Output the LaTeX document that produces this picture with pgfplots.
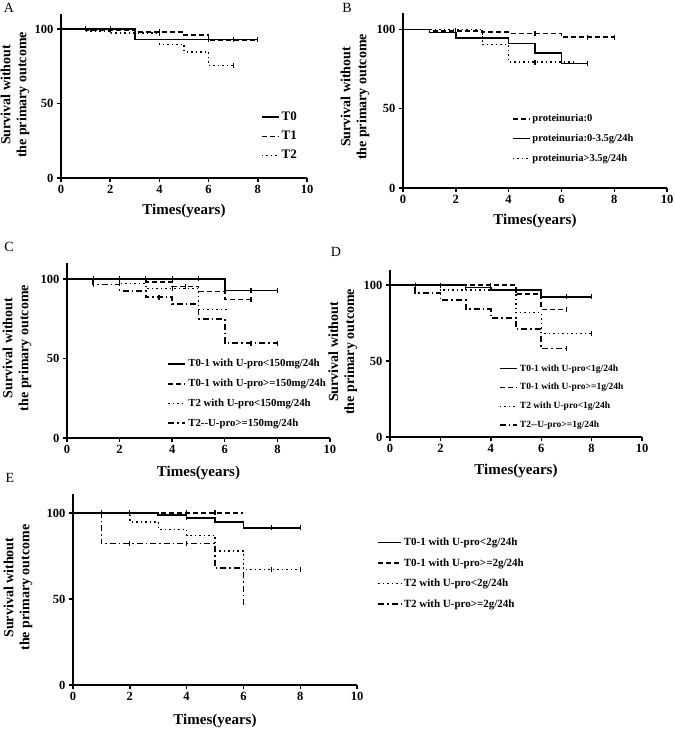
\documentclass[border=0pt]{standalone}
\usepackage{fontspec}
\setmainfont{Liberation Serif}
\usepackage{pgfplots}
\pgfplotsset{compat=1.18}

\pgfplotsset{
  km/.style={
    scale only axis,
    axis x line=bottom, axis y line=left,
    axis line style={line width=1.8pt, -},
    xmin=0, xmax=10, ymin=0,
    xtick={0,2,...,10}, ytick={0,50,100},
    tick style={line width=1.4pt, black},
    major tick length=4pt,
    tick align=outside,
    minor tick num=0,
    tick label style={font=\fontsize{12.5}{14}\selectfont\bfseries},
    /pgf/number format/assume math mode=true,
    xlabel={Times(years)},
    ylabel={Survival without\\the primary outcome},
    xlabel style={font=\fontsize{15}{17}\selectfont\bfseries, anchor=center},
    ylabel style={font=\fontsize{14}{16}\selectfont\bfseries, align=center, anchor=center},
    legend cell align=left,
    legend style={draw=none, fill=none, anchor=north west},
    clip=false,
  },
  kmS/.style={const plot, black, line width=1.6pt, solid, mark=|, mark indices={1000}, mark options={solid, line width=1.2pt}, mark size=3pt},
  kmD/.style={const plot, black, line width=1.6pt, dash pattern=on 5pt off 3pt, mark=|, mark indices={1000}, mark options={solid, line width=1.2pt}, mark size=3pt},
  kmO/.style={const plot, black, line width=1.4pt, dash pattern=on 1.5pt off 3pt, mark=|, mark indices={1000}, mark options={solid, line width=1.2pt}, mark size=3pt},
  kmDD/.style={const plot, black, line width=1.8pt, dash pattern=on 6pt off 3pt on 1.5pt off 3pt, mark=|, mark indices={1000}, mark options={solid, line width=1.2pt}, mark size=3pt},
  cens/.style={only marks, black, mark=|, mark size=2.5pt, mark options={solid, line width=1.2pt}, forget plot},
}

\begin{document}
\begin{tikzpicture}
\useasboundingbox (0,0) rectangle (675pt,732pt);

\node[font=\fontsize{14}{16}\selectfont] at (9pt,724pt) {A};
\node[font=\fontsize{14}{16}\selectfont] at (347pt,724pt) {B};
\node[font=\fontsize{14}{16}\selectfont] at (9pt,485pt) {C};
\node[font=\fontsize{14}{16}\selectfont] at (336pt,480pt) {D};
\node[font=\fontsize{14}{16}\selectfont] at (10pt,254pt) {E};

% ---------------- A ----------------
\begin{axis}[km, at={(61pt,554pt)}, anchor=south west,
  width=246pt, height=164pt, ymax=110,
  xlabel style={at={(axis description cs:0.5,-0.2)}},
  ylabel style={at={(axis description cs:-0.187,0.506)}},
  legend style={at={(axis cs:8.0,47)}, font=\fontsize{13}{15}\selectfont\bfseries, row sep=5pt}]
\addplot[kmS] coordinates {(0,100)(3,93)(8,93)};
\addlegendentry{T0}
\addplot[kmD] coordinates {(0,100)(1,99)(3,98)(5,96)(6,92.6)(8,92.6)};
\addlegendentry{T1}
\addplot[kmO] coordinates {(0,100)(1,98.5)(2,97.3)(4,89.7)(5,84.6)(6,75.4)(7,75.4)};
\addlegendentry{T2}
\addplot[cens] coordinates {(1,100)(2,100)(6,93)(7,93)(8,93)};
\addplot[cens] coordinates {(2,99)(3,98)(4,98)(7,92.6)(8,92.6)};
\addplot[cens] coordinates {(7,75.4)};
\end{axis}

% ---------------- B ----------------
\begin{axis}[km, at={(403pt,544pt)}, anchor=south west,
  width=264pt, height=175pt, ymax=110.3,
  xlabel style={at={(axis description cs:0.5,-0.19)}},
  ylabel style={at={(axis description cs:-0.182,0.52)}},
  legend style={at={(axis cs:4.0,49)}, font=\fontsize{10.5}{12}\selectfont\bfseries, row sep=7pt}]
\addplot[kmD] coordinates {(0,100)(1,99)(3,98.3)(4,97.5)(6,95)(8,95)};
\addlegendentry{proteinuria:0}
\addplot[kmS] coordinates {(0,100)(1,98)(2,94.5)(4,91.2)(5,84.9)(6,78.4)(7,78.4)};
\addlegendentry{proteinuria:0-3.5g/24h}
\addplot[kmO] coordinates {(0,100)(3,90.3)(4,79.4)(6.5,79.4)};
\addlegendentry{proteinuria>3.5g/24h}
\addplot[cens] coordinates {(2,99)(3,98.3)(5,97.5)(7,95)(8,95)};
\addplot[cens] coordinates {(7,78.4)};
\addplot[cens] coordinates {(5,79.4)};
\end{axis}

% ---------------- C ----------------
\begin{axis}[km, at={(67pt,294pt)}, anchor=south west,
  width=263pt, height=175pt, ymax=110,
  xlabel style={at={(axis description cs:0.5,-0.2)}},
  ylabel style={at={(axis description cs:-0.19,0.514)}},
  legend style={at={(axis cs:3.7,52)}, font=\fontsize{10.8}{12}\selectfont\bfseries, row sep=6.8pt}]
\addplot[kmS] coordinates {(0,100)(6,92.8)(8,92.8)};
\addlegendentry{T0-1 with U-pro<150mg/24h}
\addplot[kmD] coordinates {(0,100)(3,98)(4,95.3)(5,92.2)(6,87)(7,87)};
\addlegendentry{T0-1 with U-pro>=150mg/24h}
\addplot[kmO] coordinates {(0,100)(2,97)(3,94)(5,80.7)(6.1,80.7)};
\addlegendentry{T2 with U-pro<150mg/24h}
\addplot[kmDD] coordinates {(0,100)(1,96.5)(2,92.5)(3,88.4)(4,84)(5,75)(6,59.7)(8,59.7)};
\addlegendentry{T2-{}-U-pro>=150mg/24h}
\addplot[cens] coordinates {(1,100)(2,100)(3,100)(4,100)(5,100)(7,92.8)(8,92.8)};
\addplot[cens] coordinates {(4.5,95.3)(7,87)};
\addplot[cens] coordinates {(2,97)(4,94)};
\addplot[cens] coordinates {(1,96.5)(3.5,88.4)(7,59.7)(8,59.7)};
\end{axis}

% ---------------- D ----------------
\begin{axis}[km, at={(390pt,295pt)}, anchor=south west,
  width=252pt, height=167pt, ymax=109.9,
  xlabel style={at={(axis description cs:0.5,-0.204)}},
  ylabel style={at={(axis description cs:-0.187,0.51)}},
  legend style={at={(axis cs:4.2,50.5)}, font=\fontsize{9.5}{11}\selectfont\bfseries, row sep=6.8pt}]
\addplot[kmS] coordinates {(0,100)(3,98.5)(4,96.7)(6,92.3)(8,92.3)};
\addlegendentry{T0-1 with U-pro<1g/24h}
\addplot[kmD] coordinates {(0,100)(5,94)(6,84)(7,84)};
\addlegendentry{T0-1 with U-pro>=1g/24h}
\addplot[kmO] coordinates {(0,100)(2,96.7)(5,81.9)(6,68.1)(8,68.1)};
\addlegendentry{T2 with U-pro<1g/24h}
\addplot[kmDD] coordinates {(0,100)(1,94.9)(2,90.1)(3,84)(4,78.4)(5,71)(6,58.2)(7,58.2)};
\addlegendentry{T2-{}-U-pro>=1g/24h}
\addplot[cens] coordinates {(1,100)(2,100)(3,98.5)(5,96.7)(7,92.3)(8,92.3)};
\addplot[cens] coordinates {(4,100)(7,84)};
\addplot[cens] coordinates {(8,68.1)};
\addplot[cens] coordinates {(7,58.2)};
\end{axis}

% ---------------- E ----------------
\begin{axis}[km, at={(73pt,47pt)}, anchor=south west,
  width=284pt, height=191pt, ymax=111,
  xlabel style={at={(axis description cs:0.5,-0.188)}},
  ylabel style={at={(axis description cs:-0.194,0.51)}},
  legend image code/.code={\draw[mark repeat=2,mark phase=2] plot coordinates {(0cm,0cm)(0.4cm,0cm)(0.8cm,0cm)};},
  legend style={at={(axis cs:10.6,88)}, font=\fontsize{11}{12}\selectfont\bfseries, row sep=7.5pt}]
\addplot[kmS] coordinates {(0,100)(3,98.8)(4,97.1)(5,94.8)(6,91.3)(8,91.3)};
\addlegendentry{T0-1 with U-pro<2g/24h}
\addplot[kmD] coordinates {(0,100)(6,100)};
\addlegendentry{T0-1 with U-pro>=2g/24h}
\addplot[kmO] coordinates {(0,100)(2,94.8)(3,90.5)(4,87)(5,77.9)(6,67.1)(8,67.1)};
\addlegendentry{T2 with U-pro<2g/24h}
\addplot[kmDD] coordinates {(0,100)(1,82.2)(5,68)(6,45.5)};
\addlegendentry{T2 with U-pro>=2g/24h}
\addplot[cens] coordinates {(1,100)(2,100)(4,97.1)(7,91.3)(8,91.3)};
\addplot[cens] coordinates {(4,100)(5,100)};
\addplot[cens] coordinates {(7,67.1)(8,67.1)};
\addplot[cens] coordinates {(2,82.2)(4,82.2)};
\end{axis}
\end{tikzpicture}
\end{document}
